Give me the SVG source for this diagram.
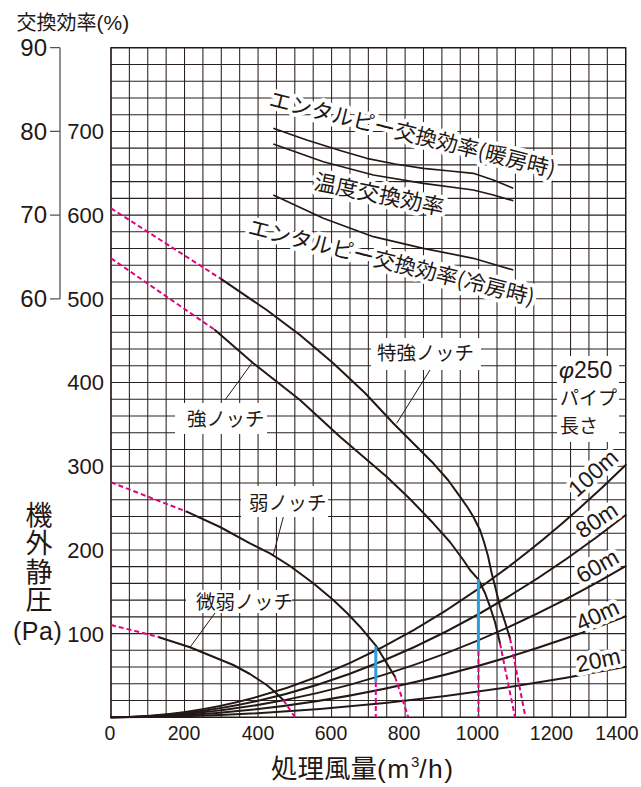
<svg xmlns="http://www.w3.org/2000/svg" width="641" height="787" viewBox="0 0 641 787">
<style>
text{font-family:"Liberation Sans","Noto Sans CJK JP",sans-serif;fill:#231815}
.jp{font-family:"Noto Sans CJK JP","Liberation Sans",sans-serif}
.grid{stroke:#2a2220;stroke-width:1.05;fill:none}
.curve{stroke:#231815;stroke-width:2;fill:none;stroke-linejoin:round;stroke-linecap:round}
.eff{stroke:#231815;stroke-width:1.7;fill:none;stroke-linejoin:round}
.dash{stroke:#e4007f;stroke-width:2;fill:none;stroke-dasharray:5,3}
.blue{stroke:#2b9fd8;stroke-width:3;fill:none}
.lead{stroke:#231815;stroke-width:1;fill:none}
.halo{stroke:#fff;stroke-width:8;stroke-linejoin:round;paint-order:stroke}
.bg{fill:#fff}
.lbl{font-size:19.5px}
.pipe{font-size:23px}
.yl{font-size:22px;text-anchor:end}
.yl2{font-size:24px;text-anchor:end}
.xl{font-size:19.5px;text-anchor:middle}
</style>
<rect width="641" height="787" fill="#fff"/>
<g id="grid">
<path class="grid" d="M111,47.7V717.3M129.38,47.7V717.3M147.76,47.7V717.3M166.15,47.7V717.3M184.53,47.7V717.3M202.91,47.7V717.3M221.29,47.7V717.3M239.67,47.7V717.3M258.06,47.7V717.3M276.44,47.7V717.3M294.82,47.7V717.3M313.2,47.7V717.3M331.58,47.7V717.3M349.97,47.7V717.3M368.35,47.7V717.3M386.73,47.7V717.3M405.11,47.7V717.3M423.49,47.7V717.3M441.88,47.7V717.3M460.26,47.7V717.3M478.64,47.7V717.3M497.02,47.7V717.3M515.4,47.7V717.3M533.79,47.7V717.3M552.17,47.7V717.3M570.55,47.7V717.3M588.93,47.7V717.3M607.31,47.7V717.3M625.7,47.7V717.3"/>
<path class="grid" d="M111,717.3H625.7M111,700.56H625.7M111,683.82H625.7M111,667.08H625.7M111,650.34H625.7M111,633.6H625.7M111,616.86H625.7M111,600.12H625.7M111,583.38H625.7M111,566.64H625.7M111,549.9H625.7M111,533.16H625.7M111,516.42H625.7M111,499.68H625.7M111,482.94H625.7M111,466.2H625.7M111,449.46H625.7M111,432.72H625.7M111,415.98H625.7M111,399.24H625.7M111,382.5H625.7M111,365.76H625.7M111,349.02H625.7M111,332.28H625.7M111,315.54H625.7M111,298.8H625.7M111,282.06H625.7M111,265.32H625.7M111,248.58H625.7M111,231.84H625.7M111,215.1H625.7M111,198.36H625.7M111,181.62H625.7M111,164.88H625.7M111,148.14H625.7M111,131.4H625.7M111,114.66H625.7M111,97.92H625.7M111,81.18H625.7M111,64.44H625.7M111,47.7H625.7"/>
<rect x="111" y="47.7" width="514.7" height="669.6" fill="none" stroke="#231815" stroke-width="1.3"/>
</g>
<g id="efficiency-axis">
<path d="M60,47.7V298.8M50,47.7H60M50,131.4H60M50,215.1H60M50,298.8H60" stroke="#555" stroke-width="1.3" fill="none"/>
<text class="jp" x="16.5" y="30" font-size="20">交換効率<tspan font-family="Liberation Sans" font-size="21">(%)</tspan></text>
<text class="yl2" x="47" y="56">90</text>
<text class="yl2" x="47" y="139.7">80</text>
<text class="yl2" x="47" y="223.4">70</text>
<text class="yl2" x="47" y="307.1">60</text>
</g>
<g id="pressure-axis">
<text class="yl" x="104" y="139.3">700</text>
<text class="yl" x="104" y="223">600</text>
<text class="yl" x="104" y="306.7">500</text>
<text class="yl" x="104" y="390.4">400</text>
<text class="yl" x="104" y="474.1">300</text>
<text class="yl" x="104" y="557.8">200</text>
<text class="yl" x="104" y="641.5">100</text>
<text class="jp" x="39" y="501" writing-mode="tb" font-size="27" letter-spacing="1.5">機外静圧</text>
<text x="13" y="640" font-size="25" letter-spacing="0.5">(Pa)</text>
</g>
<g id="flow-axis">
<text class="xl" x="110" y="740">0</text>
<text class="xl" x="184" y="740">200</text>
<text class="xl" x="258" y="740">400</text>
<text class="xl" x="331" y="740">600</text>
<text class="xl" x="404" y="740">800</text>
<text class="xl" x="477.5" y="740">1000</text>
<text class="xl" x="551.5" y="740">1200</text>
<text class="xl" x="617" y="740">1400</text>
<text class="jp" x="271" y="778" font-size="26.5">処理風量<tspan font-family="Liberation Sans" letter-spacing="1.5">(m</tspan><tspan font-family="Liberation Sans" font-size="15" dy="-11">3</tspan><tspan font-family="Liberation Sans" letter-spacing="1.5" dy="11">/h)</tspan></text>
</g>
<g id="connectors">
<path class="eff" d="M273.3,128.3L306.7,140L340,150.5L366.7,158.3L395,164L423.3,168.3L450,171L473.3,173.3L493.3,180L513.3,188.3"/>
<path class="eff" d="M273.3,144L323.3,161.7L373.3,175L423.3,183.3L473.3,190L493.3,195L513.3,200.7"/>
<path class="eff" d="M273.3,195L323.3,218.3L373.3,236.7L423.3,248.3L473.3,258.3L513.3,270"/>
<path class="curve" d="M111,717.3Q368.35,717.3 625.7,465"/>
<path class="curve" d="M111,717.3Q368.35,717.3 625.7,515"/>
<path class="curve" d="M111,717.3Q368.35,717.3 625.7,566.2"/>
<path class="curve" d="M111,717.3Q368.35,717.3 625.7,616.3"/>
<path class="curve" d="M111,717.3Q368.35,717.3 625.7,666.8"/>
<path class="dash" d="M111,208.3L221.7,279.3"/>
<path class="curve" d="M221.7,279.3L266.7,310L300,335L333.3,363.3L365,393L393.3,423.3L415,445L433.3,463.3L448,480L460,496.7L468,508L473.3,516.7L480,530L484,542L488,556L491.7,573.3L496,590L500,606.7L505,622L510,638.3"/>
<path class="dash" d="M510,638.3L525.5,717.3"/>
<path class="dash" d="M111,258.3L215,330"/>
<path class="curve" d="M215,330L253.3,363.3L300,400L340,436.7L386.7,476.7L410,499L433.3,523.3L450,542L463.3,560L470,570L478.3,579.3L485,593L490,606.7L495,622L500,643.3"/>
<path class="dash" d="M500,643.3L515,717.3"/>
<path class="dash" d="M111,482.3L186.7,511.7"/>
<path class="curve" d="M186.7,511.7L220,527L250,543.3L270,553.3L290,566L313.3,583.3L333.3,600L347,613L360,626.7L376.7,646.7L386.7,663.3L395,676.7"/>
<path class="dash" d="M395,676.7L408.3,717.3"/>
<path class="dash" d="M111,625L159,637"/>
<path class="curve" d="M159,637.2L190,647.3L233.3,665L250,674L266.7,685L275,692L283.3,700"/>
<path class="dash" d="M283.3,700L295,717.3"/>
<path class="blue" d="M375.8,646.7V681.7M478.4,579.3V650.7"/>
<path class="dash" d="M375.8,682V717.3M478.4,651V717.3"/>
<path class="lead" d="M430,370L396.7,423.3M225,400L251.7,363.3M283.3,517L273.3,555M215,613L190,647.3"/>
</g>
<g id="label-heating">
<text class="jp halo" transform="translate(268,106) rotate(14)" font-size="21.5">エンタルピー交換効率(暖房時)</text>
</g>
<g id="label-temperature">
<text class="jp halo" transform="translate(313,189) rotate(11.5)" font-size="22">温度交換効率</text>
</g>
<g id="label-cooling">
<text class="jp halo" transform="translate(247,234) rotate(14)" font-size="21.5">エンタルピー交換効率(冷房時)</text>
</g>
<g id="label-extra-strong">
<rect class="bg" x="371" y="338" width="110" height="32"/>
<text class="jp lbl" x="377" y="360">特強ノッチ</text>
</g>
<g id="label-strong">
<rect class="bg" x="175" y="403" width="92" height="31"/>
<text class="jp lbl" x="187" y="426">強ノッチ</text>
</g>
<g id="label-weak">
<rect class="bg" x="241" y="486" width="87" height="31"/>
<text class="jp lbl" x="249" y="510">弱ノッチ</text>
</g>
<g id="label-very-weak">
<rect class="bg" x="186" y="590" width="106" height="23"/>
<text class="jp lbl" x="196" y="609">微弱ノッチ</text>
</g>
<g id="label-pipe">
<rect class="bg" x="557" y="356" width="62" height="86"/>
<text x="559" y="377.5" font-size="23"><tspan font-style="italic">φ</tspan>250</text>
<text class="jp" x="560" y="405" font-size="19">パイプ</text>
<text class="jp" x="560" y="433" font-size="19">長さ</text>
</g>
<g id="label-100m"><text class="pipe halo" text-anchor="middle" transform="translate(593,473) rotate(-42)" y="8">100m</text></g>
<g id="label-80m"><text class="pipe halo" text-anchor="middle" transform="translate(596.7,520) rotate(-34)" y="8">80m</text></g>
<g id="label-60m"><text class="pipe halo" text-anchor="middle" transform="translate(597.3,566) rotate(-30)" y="8">60m</text></g>
<g id="label-40m"><text class="pipe halo" text-anchor="middle" transform="translate(597.3,615) rotate(-25)" y="8">40m</text></g>
<g id="label-20m"><text class="pipe halo" text-anchor="middle" transform="translate(598.3,660) rotate(-12)" y="8">20m</text></g>
</svg>
